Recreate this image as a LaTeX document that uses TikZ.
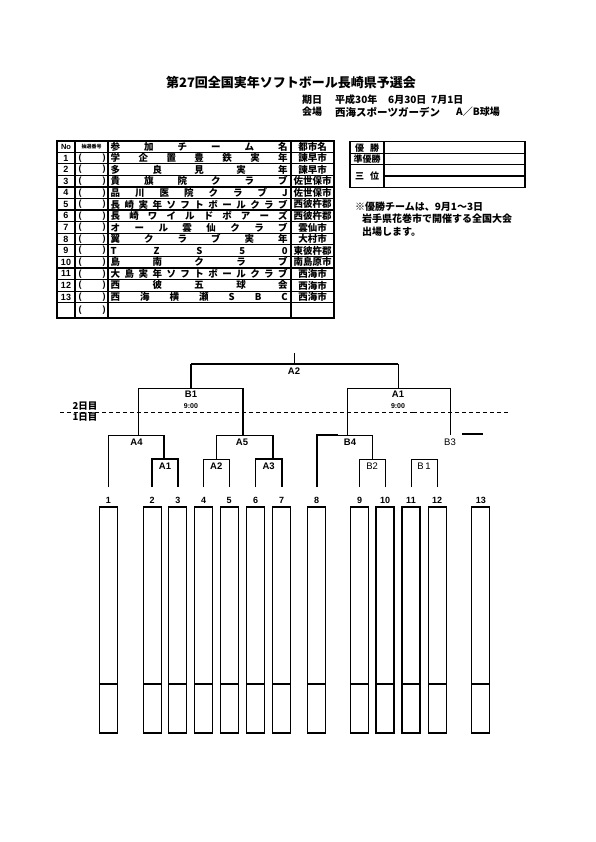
\documentclass[tikz,border=0pt]{standalone}
\usepackage{fontspec}
\setmainfont{Liberation Sans}
\newfontfamily\cjk{Noto Sans CJK JP}
\makeatletter
\def\spreadchars#1{\spr@a#1\relax}
\def\spr@a#1#2{#1\ifx\relax#2\else\hfill\expandafter\spr@a\expandafter#2\fi}
\makeatother
\begin{document}
\begin{tikzpicture}[x=1pt,y=-1pt,
  lnA/.style={line width=0.8pt},
  lnB/.style={line width=1.7pt},
  lnC/.style={line width=0.6pt},
  tbl/.style={line width=1.2pt},
  lab/.style={font=\bfseries\fontsize{9.5}{9.5}\selectfont, inner sep=0},
  labr/.style={font=\fontsize{9.5}{9.5}\selectfont, inner sep=0},
  tim/.style={font=\bfseries\fontsize{7}{7}\selectfont, inner sep=0},
  num/.style={font=\bfseries\fontsize{9}{9}\selectfont, inner sep=0},
  jp/.style={font=\cjk\bfseries\fontsize{#1}{#1}\selectfont, inner sep=0}]
\path[use as bounding box] (0,0) rectangle (595,842);

% ---- title ----
\node[jp=13] (title) at (291,83) {第27回全国実年ソフトボール長崎県予選会};
\node[jp=10, anchor=west] (dlab) at (302,100) {期日};
\node[jp=10, anchor=west] (d1) at (335,100) {平成30年};
\node[jp=10, anchor=west] (d2) at (388,100) {6月30日};
\node[jp=10, anchor=west] (d3) at (431,100) {7月1日};
\node[jp=10, anchor=west] (vlab) at (302,112) {会場};
\node[jp=10.5, anchor=west] (v1) at (335,112) {西海スポーツガーデン};
\node[jp=10, anchor=west] (v2) at (456,112) {A／B球場};

% ---- entry table ----
\draw[line width=1.5pt] (57,141) rectangle (334,318);
\foreach \xx in {75,108,291} \draw[tbl] (\xx,141) -- (\xx,318);
\draw[tbl] (57,152.2) -- (334,152.2);
\foreach \k in {1,...,13} \draw[tbl] (57,{152.2+11.58*\k}) -- (334,{152.2+11.58*\k});
\node[font=\bfseries\fontsize{7.5}{7.5}\selectfont, inner sep=0] (hno) at (66,146.8) {No};
\node[jp=5] (hlot) at (91.5,146.8) {抽選番号};
\node[jp=9.5, anchor=west] (hteam) at (110.5,146.8) {\makebox[177pt][l]{\spreadchars{参加チーム名}}};
\node[jp=9.5] (hcity) at (312.5,146.8) {都市名};
\foreach \i/\nm/\ct in {1/学企置豊鉄実年/諫早市, 2/多良見実年/諫早市, 3/貴旗院クラブ/佐世保市, 4/品川医院クラブJ/佐世保市, 5/長崎実年ソフトボールクラブ/西彼杵郡, 6/長崎ワイルドボアーズ/西彼杵郡, 7/オール雲仙クラブ/雲仙市, 8/翼クラブ実年/大村市, 9/TZS50/東彼杵郡, 10/島南クラブ/南島原市, 11/大島実年ソフトボールクラブ/西海市, 12/西彼五球会/西海市, 13/西海横瀬SBC/西海市}{
  \pgfmathsetmacro\yy{158+11.58*(\i-1)}
  \node[num] (no\i) at (66,\yy) {\i};
  \node[num] (lp\i) at (80,\yy) {(};
  \node[num] (rp\i) at (104,\yy) {)};
  \node[jp=9.5, anchor=west] (tm\i) at (110.5,\yy) {\makebox[177pt][l]{\expandafter\spreadchars\expandafter{\nm}}};
  \node[jp=9.5] (ct\i) at (312.5,\yy) {\ct};
}
\node[num] (lpx) at (80,310.5) {(};
\node[num] (rpx) at (104,310.5) {)};

% ---- result table ----
\draw[line width=1.5pt] (350,141.7) rectangle (525,187.3);
\draw[line width=1.5pt] (384,141.7) -- (384,187.3);
\draw[line width=1.5pt] (350,153.3) -- (525,153.3);
\draw[line width=1.5pt] (350,164.3) -- (525,164.3);
\draw[line width=1.5pt] (384,176) -- (525,176);
\node[jp=9] (r1) at (367,147.6) {優\hspace{6pt}勝};
\node[jp=9] (r2) at (367,158.8) {準優勝};
\node[jp=9] (r3) at (367,176) {三\hspace{6pt}位};

% ---- note ----
\node[jp=10, anchor=west] (n1) at (355,206.5) {※優勝チームは、9月1～3日};
\node[jp=10, anchor=west] (n2) at (362,219) {岩手県花巻市で開催する全国大会};
\node[jp=10, anchor=west] (n3) at (362,231.5) {出場します。};

% ---- day divider ----
\draw[line width=1.5pt, dash pattern=on 4pt off 3pt] (60,412.5) -- (413,412.5);
\draw[lnA, dash pattern=on 4pt off 3pt] (413,412.5) -- (508,412.5);
\node[jp=9.5, anchor=east] (day2) at (97.5,406) {2日目};
\node[jp=9.5, anchor=east] (day1) at (97.5,417.5) {1日目};

% ---- bracket ----
\draw[lnA] (294,353) -- (294,364);
\draw[lnB] (191,364) -- (398,364);
\draw[lnB] (191,364) -- (191,388);
\draw[lnA] (398,364) -- (398,388);
\draw[lnA] (138,435) -- (138,388) -- (243,388);
\draw[lnB] (243,388) -- (243,435);
\draw[lnA] (108.5,487) -- (108.5,435) -- (164,435);
\draw[lnB] (164,435) -- (164,459);
\draw[lnB] (152.2,487) |- (177.8,459) -- (177.8,487);
\draw[lnA] (216.3,459) -- (216.3,435) -- (273,435);
\draw[lnB] (273,435) -- (273,459);
\draw[lnA] (203.5,487) |- (229.2,459) -- (229.2,487);
\draw[lnB] (255.5,487) |- (281.7,459) -- (281.7,487);
\draw[lnA] (347,435) -- (347,388) -- (450,388) -- (450,435);
\draw[lnB] (316.7,487) -- (316.7,435) -- (338,435);
\draw[lnA] (338,435) -- (372.2,435) -- (372.2,459);
\draw[lnC] (359.5,487) |- (385,459) -- (385,487);
\draw[lnC] (411,487) |- (437.2,459) -- (437.2,487);
\draw[lnB] (462,434) -- (483,434);

\node[lab] (gA2) at (294,371.5) {A2};
\node[lab] (gB1) at (191,394.5) {B1};
\node[tim] (tB1) at (191,406) {9:00};
\node[lab] (gA1) at (398,394.5) {A1};
\node[tim] (tA1) at (398,406) {9:00};
\node[lab] (gA4) at (136.5,442) {A4};
\node[lab] (gA5) at (242,442) {A5};
\node[lab] (gB4) at (350,442) {B4};
\node[labr] (gB3) at (450,442) {B3};
\node[lab] (bA1) at (165,466.5) {A1};
\node[lab] (bA2) at (216.3,466.5) {A2};
\node[lab] (bA3) at (268.6,466.5) {A3};
\node[labr] (bB2) at (372.2,466.5) {B2};
\node[labr] (bB1) at (424,466.5) {B\,1};

% ---- team boxes ----
\foreach \n/\xx in {1/108.5,2/152.2,3/177.8,4/203.5,5/229.2,6/255.5,7/281.7,8/316.7,9/359.5,10/385,11/411,12/437.2,13/480.8}{
  \draw[line width=1.2pt] ({\xx-9},507) rectangle ({\xx+9},733);
  \draw[line width=1.2pt] ({\xx-9},684) -- ({\xx+9},684);
  \node[num] (t\n) at (\xx,500) {\n};
}
\end{tikzpicture}
\end{document}
